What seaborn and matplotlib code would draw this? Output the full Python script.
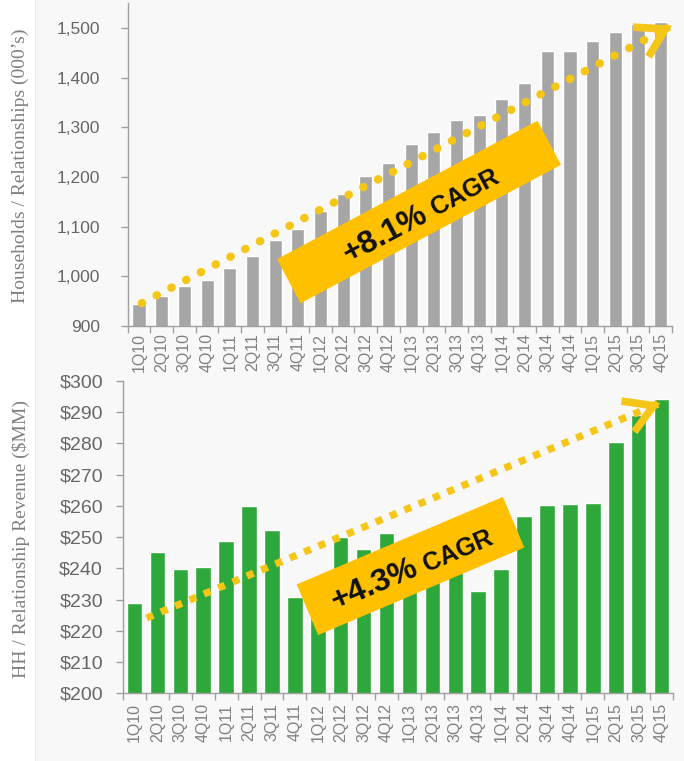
import numpy as np
import pandas as pd
import matplotlib
matplotlib.use("Agg")
import matplotlib.pyplot as plt
import seaborn as sns
from matplotlib.patches import Rectangle
from matplotlib.lines import Line2D

# ---------------- data ----------------
quarters = ["1Q10", "2Q10", "3Q10", "4Q10", "1Q11", "2Q11", "3Q11", "4Q11",
            "1Q12", "2Q12", "3Q12", "4Q12", "1Q13", "2Q13", "3Q13", "4Q13",
            "1Q14", "2Q14", "3Q14", "4Q14", "1Q15", "2Q15", "3Q15", "4Q15"]
households = [944, 961, 980, 992, 1016, 1041, 1073, 1096,
              1131, 1166, 1203, 1229, 1266, 1290, 1314, 1325,
              1358, 1390, 1454, 1454, 1474, 1492, 1508, 1512]
revenue = [228.8, 245.2, 239.9, 240.4, 248.8, 260.1, 252.2, 230.7,
           228.0, 250.0, 246.2, 251.4, 244.0, 242.0, 240.0, 232.8,
           239.9, 256.8, 260.2, 260.7, 261.0, 280.6, 289.0, 294.1]
hh_ticks = [900, 1000, 1100, 1200, 1300, 1400, 1500]
rev_ticks = [200, 210, 220, 230, 240, 250, 260, 270, 280, 290, 300]
hh_label = "Households / Relationships (000\u2019s)"
rev_label = "HH / Relationship Revenue ($MM)"
hh_cagr = ("+8.1%", "CAGR")
rev_cagr = ("+4.3%", "CAGR")

# ---------------- style ----------------
sns.set_style("white")
plt.rcParams["font.family"] = ["Liberation Sans", "DejaVu Sans"]

W, H = 684, 761
GRAY_BAR = "#A6A6A6"
GREEN = "#2EA83A"
YEL = "#F5C518"
BOX = "#FFC000"
SPINE = "#A0A0A0"
TICKTXT = "#666666"

fig = plt.figure(figsize=(W / 100, H / 100), dpi=100, facecolor="#F8F8F8")
fig.add_artist(Rectangle((0, 0), 35 / W, 1, transform=fig.transFigure,
                         facecolor="white", edgecolor="none", zorder=-5))
fig.add_artist(Line2D([35 / W, 35 / W], [0, 1], transform=fig.transFigure,
                      color="#E8E8E8", lw=0.8, zorder=-4))


def px_axes(left, right, top, bottom):
    return fig.add_axes([left / W, (H - bottom) / H, (right - left) / W, (bottom - top) / H])


ax1 = px_axes(127.7, 672, 3.2, 326)
ax2 = px_axes(123, 673, 381, 693.3)


def panel(ax, values, color, width, ylim, yticks, fmt, ysize, ypad, xpad):
    df = pd.DataFrame({"quarter": quarters, "value": values})
    sns.barplot(data=df, x="quarter", y="value", color=color, width=width,
                saturation=1, errorbar=None, ax=ax, zorder=2)
    ax.set_facecolor("none")
    ax.set_xlim(-0.5, len(quarters) - 0.5)
    ax.set_ylim(*ylim)
    ax.set_xlabel("")
    ax.set_ylabel("")
    for s in ("top", "right"):
        ax.spines[s].set_visible(False)
    for s in ("left", "bottom"):
        ax.spines[s].set_color(SPINE)
        ax.spines[s].set_linewidth(1)
    ax.set_xticks(range(len(quarters)))
    ax.set_xticklabels(quarters, rotation=90, fontsize=11.5, color="#808080")
    ax.set_xticks(np.arange(-0.5, len(quarters), 1), minor=True)
    ax.tick_params(axis="x", which="major", bottom=True, length=0, pad=xpad)
    ax.tick_params(axis="x", which="minor", bottom=True, length=5, width=1,
                   color=SPINE, direction="out")
    ax.set_yticks(yticks)
    ax.set_yticklabels([fmt(v) for v in yticks], fontsize=ysize, color=TICKTXT)
    ax.tick_params(axis="y", left=True, length=5, width=1, color=SPINE,
                   direction="out", pad=ypad)


panel(ax1, households, GRAY_BAR, 0.58, (900, 1550), hh_ticks,
      lambda v: f"{v:,}", 12.5, 15, 5)
panel(ax2, revenue, GREEN, 0.68, (200, 300), rev_ticks,
      lambda v: f"${v}", 14, 9.5, 7)


def cagr_arrow(ax, x0, y0, x1, y1, cap, lw, pattern):
    ax.plot([x0, x1], [y0, y1], color=YEL, lw=lw, linestyle=(0, pattern),
            dash_capstyle=cap, clip_on=False, zorder=6)
    ax.annotate("", xy=(x1, y1),
                xytext=(x1 - (x1 - x0) * 0.005, y1 - (y1 - y0) * 0.005),
                arrowprops=dict(arrowstyle="->,head_length=1.0,head_width=0.6",
                                color=YEL, lw=5.5, mutation_scale=20,
                                shrinkA=0, shrinkB=0, joinstyle="miter",
                                capstyle="butt"),
                annotation_clip=False, zorder=7)


cagr_arrow(ax1, 0.12, 946, 23.5, 1505, "round", 6, (0.05, 1.95))
cagr_arrow(ax2, 0.53, 224.1, 22.95, 293.0, "butt", 5.2, (1, 1.15))

renderer = fig.canvas.get_renderer()


def cagr_box(cx_px, cy_px, w, h, angle, parts, fs_big, fs_small):
    cx_in = cx_px / 100
    cy_in = (H - cy_px) / 100
    rect = Rectangle((cx_in - w / 200, cy_in - h / 200), w / 100, h / 100,
                     angle=angle, rotation_point="center",
                     transform=fig.dpi_scale_trans, facecolor=BOX,
                     edgecolor="none", zorder=3)
    fig.add_artist(rect)
    t1 = fig.text(0, 0, parts[0], fontsize=fs_big, fontweight="bold", color="#111111",
                  ha="left", va="baseline", zorder=4)
    t2 = fig.text(0, 0, parts[1], fontsize=fs_small, fontweight="bold", color="#111111",
                  ha="left", va="baseline", zorder=4)
    w1 = t1.get_window_extent(renderer).width
    w2 = t2.get_window_extent(renderer).width
    gap = 0.3 * fs_small * 100 / 72
    total = w1 + gap + w2
    a = np.deg2rad(angle)
    d = np.array([np.cos(a), np.sin(a)])
    n = np.array([-np.sin(a), np.cos(a)])
    c = np.array([cx_px, H - cy_px])
    half_cap = 0.36 * fs_big * 100 / 72
    s = c - total / 2 * d - half_cap * n
    s2 = s + (w1 + gap) * d
    for t, p in ((t1, s), (t2, s2)):
        t.set_position((p[0] / W, p[1] / H))
        t.set_rotation(angle)
        t.set_rotation_mode("anchor")


cagr_box(419, 212, 295, 50, 28, hh_cagr, 23, 18)
cagr_box(410.5, 566, 224, 55, 23, rev_cagr, 23, 18)

fig.text(20.5 / W, (H - 166) / H, hh_label, rotation=90, ha="center", va="center",
         family=["Liberation Serif", "DejaVu Serif"], fontsize=14, color="#7F7F7F")
fig.text(20.5 / W, (H - 538.5) / H, rev_label, rotation=90, ha="center", va="center",
         family=["Liberation Serif", "DejaVu Serif"], fontsize=14, color="#7F7F7F")

fig.savefig("out.png", dpi=100, facecolor=fig.get_facecolor())
